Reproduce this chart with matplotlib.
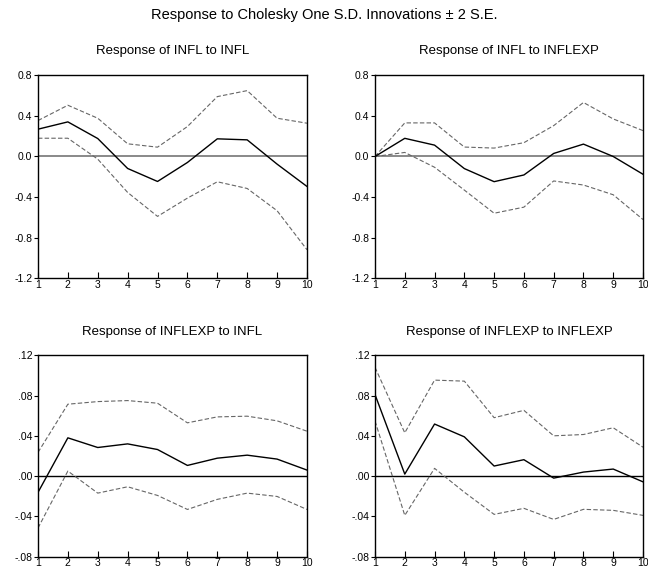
import matplotlib

matplotlib.use("Agg")
import matplotlib.pyplot as plt

plt.rcParams["font.family"] = ["Liberation Sans", "DejaVu Sans"]

periods = list(range(1, 11))

# Response of INFL to INFL
infl_infl = [0.269, 0.341, 0.177, -0.118, -0.246, -0.059, 0.174, 0.164, -0.075, -0.295]
infl_infl_hi = [0.354, 0.505, 0.377, 0.125, 0.092, 0.295, 0.590, 0.649, 0.377, 0.328]
infl_infl_lo = [0.180, 0.180, -0.026, -0.354, -0.590, -0.410, -0.249, -0.315, -0.534, -0.918]

# Response of INFL to INFLEXP
infl_exp = [0.0, 0.179, 0.112, -0.119, -0.248, -0.182, 0.030, 0.122, 0.0, -0.175]
infl_exp_hi = [0.0, 0.331, 0.331, 0.093, 0.083, 0.136, 0.304, 0.532, 0.370, 0.255]
infl_exp_lo = [0.0, 0.040, -0.106, -0.331, -0.559, -0.499, -0.241, -0.281, -0.377, -0.621]

# Response of INFLEXP to INFL
exp_infl = [-0.0162, 0.038, 0.0284, 0.032, 0.0264, 0.0106, 0.0178, 0.0208, 0.0169, 0.006]
exp_infl_hi = [0.0235, 0.0714, 0.074, 0.075, 0.0724, 0.0529, 0.0588, 0.0595, 0.0549, 0.0446]
exp_infl_lo = [-0.0516, 0.005, -0.0169, -0.0106, -0.0192, -0.0331, -0.0231, -0.0169, -0.0202, -0.0331]

# Response of INFLEXP to INFLEXP
exp_exp = [0.081, 0.002, 0.0517, 0.039, 0.010, 0.0163, -0.002, 0.004, 0.007, -0.0057]
exp_exp_hi = [0.108, 0.043, 0.0953, 0.0943, 0.058, 0.0653, 0.040, 0.0413, 0.048, 0.0287]
exp_exp_lo = [0.0547, -0.039, 0.0077, -0.016, -0.038, -0.032, -0.043, -0.033, -0.034, -0.039]

infl_ticks = [0.8, 0.4, 0.0, -0.4, -0.8, -1.2]
infl_ticklabels = ["0.8", "0.4", "0.0", "-0.4", "-0.8", "-1.2"]
exp_ticks = [0.12, 0.08, 0.04, 0.0, -0.04, -0.08]
exp_ticklabels = [".12", ".08", ".04", ".00", "-.04", "-.08"]

panels = [
    ("Response of INFL to INFL", infl_infl, infl_infl_hi, infl_infl_lo,
     infl_ticks, infl_ticklabels, "#808080", 1.3, 15),
    ("Response of INFL to INFLEXP", infl_exp, infl_exp_hi, infl_exp_lo,
     infl_ticks, infl_ticklabels, "#808080", 1.3, 15),
    ("Response of INFLEXP to INFL", exp_infl, exp_infl_hi, exp_infl_lo,
     exp_ticks, exp_ticklabels, "black", 1.0, 14.5),
    ("Response of INFLEXP to INFLEXP", exp_exp, exp_exp_hi, exp_exp_lo,
     exp_ticks, exp_ticklabels, "black", 1.0, 14.5),
]

# [left, bottom, width, height] in figure fractions
boxes = [
    [0.0586, 0.5143, 0.4151, 0.3543],
    [0.5787, 0.5143, 0.4136, 0.3543],
    [0.0586, 0.0285, 0.4151, 0.3515],
    [0.5787, 0.0285, 0.4136, 0.3515],
]

fig = plt.figure(figsize=(6.48, 5.73), dpi=100)
fig.patch.set_facecolor("white")

fig.text(0.5, 0.973, "Response to Cholesky One S.D. Innovations \u00b1 2 S.E.",
         ha="center", va="center", fontsize=10.5)

for box, (title, mid, hi, lo, yt, ytl, zcol, zlw, tpad) in zip(boxes, panels):
    ax = fig.add_axes(box)
    ax.axhline(0, color=zcol, linewidth=zlw, zorder=1)
    ax.plot(periods, hi, color="#666666", linewidth=0.8,
            linestyle=(0, (4, 2)), zorder=2)
    ax.plot(periods, lo, color="#666666", linewidth=0.8,
            linestyle=(0, (4, 2)), zorder=2)
    ax.plot(periods, mid, color="black", linewidth=1.0, zorder=3)

    ax.set_xlim(1, 10)
    ax.set_ylim(yt[-1], yt[0])
    ax.set_xticks(periods)
    ax.set_xticklabels([str(p) for p in periods], fontsize=7.5)
    ax.set_yticks(yt)
    ax.set_yticklabels(ytl, fontsize=7.5)
    ax.tick_params(axis="x", direction="in", length=4, width=0.8, pad=1)
    ax.tick_params(axis="y", direction="out", length=3, width=0.8, pad=1)
    for sp in ax.spines.values():
        sp.set_linewidth(1.0)
    ax.set_title(title, fontsize=9.5, pad=tpad)

fig.savefig("out.png", dpi=100, facecolor="white")
